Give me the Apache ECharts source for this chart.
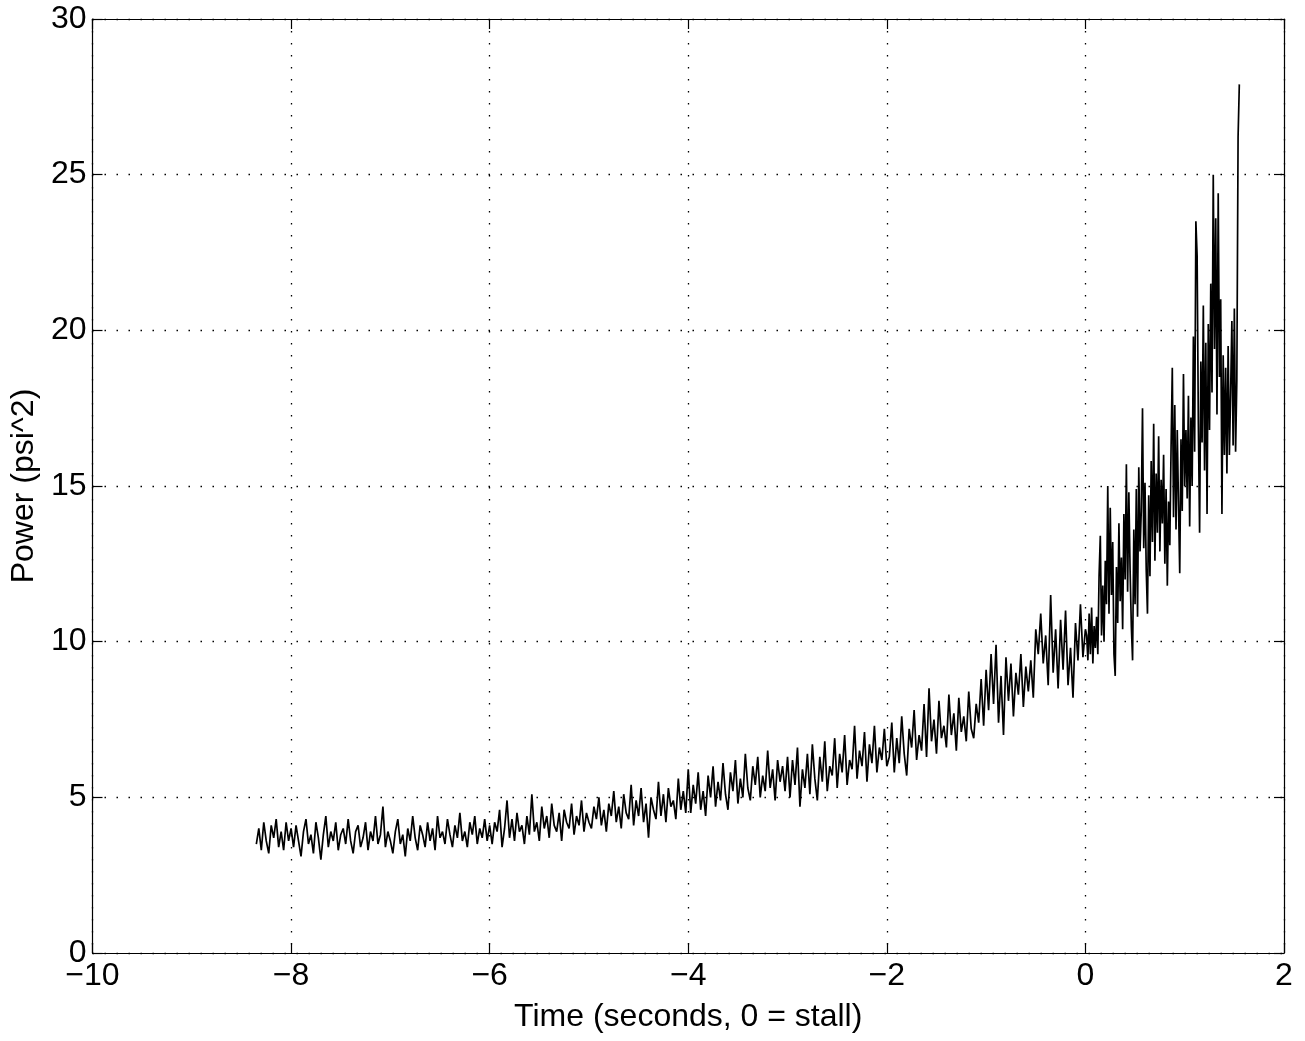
<!DOCTYPE html>
<html>
<head>
<meta charset="utf-8">
<script src="https://cdn.jsdelivr.net/npm/echarts@6/dist/echarts.min.js"></script>
<style>
  html, body { margin: 0; padding: 0; background: #fff; }
  #chart { width: 1305px; height: 1041px; }
</style>
</head>
<body>
<div id="chart"></div>
<script>
// Pressure-signal power before and after stall.
// Before stall: one sample every 25 ms; after stall: every 12.5 ms.
const preStart = -8.35;
const preStep = 0.025;
const postStart = 0.0125;
const postStep = 0.0125;

// -8.35 .. -8.00 s
const powerLead = [3.5, 4.0, 3.3, 4.2, 3.6, 3.2, 4.1, 3.7, 4.3, 3.4, 3.9, 3.3, 4.2, 3.6, 4.0];
// -7.975 .. -7.00 s
const powerSec7 = [3.4, 4.1, 3.6, 3.1, 3.9, 4.3, 3.5, 3.8, 3.2, 4.2,
                   3.7, 3.0, 3.8, 4.4, 3.4, 3.9, 3.6, 4.2, 3.3, 3.8,
                   4.0, 3.5, 4.3, 3.6, 3.2, 3.9, 4.1, 3.4, 3.7, 4.2,
                   3.3, 3.9, 3.6, 4.4, 3.5, 3.8, 4.7, 3.4, 3.9, 3.6];
// -6.975 .. -6.00 s
const powerSec6 = [3.2, 3.9, 4.3, 3.5, 3.8, 3.1, 4.0, 3.6, 4.4, 3.7,
                   3.3, 4.1, 3.8, 3.4, 4.2, 3.6, 4.0, 3.3, 4.4, 3.7,
                   3.9, 3.5, 4.3, 3.8, 3.4, 4.1, 3.7, 4.5, 3.6, 3.9,
                   3.4, 4.2, 3.8, 4.4, 3.5, 4.0, 3.7, 4.3, 3.6, 4.1];
// -5.975 .. -5.00 s
const powerSec5 = [3.5, 4.2, 3.9, 4.6, 3.4, 4.0, 4.9, 3.7, 4.3, 3.6,
                   4.5, 3.9, 4.1, 3.5, 4.4, 3.8, 5.1, 3.9, 4.2, 3.6,
                   4.7, 4.0, 4.4, 3.7, 4.8, 4.1, 3.9, 4.5, 3.6, 4.6,
                   4.2, 4.0, 4.8, 3.8, 4.4, 4.1, 4.9, 3.9, 4.5, 4.2];
// -4.975 .. -4.00 s
const powerSec4 = [4.0, 4.7, 4.3, 5.0, 4.1, 4.6, 3.9, 4.8, 4.4, 5.2,
                   4.2, 4.7, 4.0, 5.1, 4.5, 4.3, 5.4, 4.1, 4.9, 4.4,
                   5.3, 4.2, 4.8, 3.7, 5.0, 4.6, 4.3, 5.5, 4.4, 5.1,
                   4.2, 5.3, 4.7, 4.9, 4.3, 5.6, 4.6, 5.2, 4.5, 5.9];
// -3.975 .. -3.00 s
const powerSec3 = [4.5, 5.4, 4.8, 5.8, 4.6, 5.2, 4.4, 5.7, 5.0, 6.0,
                   4.7, 5.5, 4.9, 6.1, 5.1, 4.6, 5.8, 5.2, 6.2, 4.8,
                   5.6, 5.0, 6.4, 5.3, 4.9, 6.0, 5.4, 6.3, 5.0, 5.7,
                   5.2, 6.5, 5.3, 5.9, 4.9, 6.2, 5.5, 6.0, 5.2, 6.3];
// -2.975 .. -2.00 s
const powerSec2 = [5.0, 6.2, 5.4, 6.6, 4.7, 5.9, 5.3, 6.4, 5.1, 6.7,
                   5.6, 4.9, 6.3, 5.5, 6.8, 5.2, 6.0, 5.7, 6.9, 5.3,
                   6.4, 5.8, 7.0, 5.4, 6.2, 5.9, 7.3, 5.6, 6.5, 6.0,
                   7.1, 5.5, 6.7, 6.1, 7.3, 5.8, 6.6, 6.2, 7.2, 6.0];
// -1.975 .. -1.00 s
const powerSec1 = [6.3, 7.4, 5.8, 6.9, 6.1, 7.6, 6.4, 5.7, 7.2, 6.6,
                   7.8, 6.2, 7.0, 6.5, 8.0, 6.3, 8.5, 6.8, 7.5, 6.4,
                   8.1, 6.9, 7.3, 6.6, 8.3, 7.0, 7.7, 6.5, 8.2, 7.1,
                   7.6, 6.8, 8.4, 7.2, 6.9, 8.0, 7.4, 8.8, 7.3, 9.1];
// -0.975 .. 0.00 s
const powerSec0 = [7.8, 9.6, 8.0, 9.9, 7.4, 8.9, 7.0, 9.5, 8.1, 9.3,
                   7.6, 9.0, 8.3, 9.6, 7.9, 9.2, 8.4, 9.4, 8.2, 10.4,
                   9.6, 10.9, 9.3, 10.2, 8.6, 11.5, 9.0, 10.4, 8.5, 10.7,
                   9.1, 11.0, 8.6, 9.8, 8.2, 10.6, 9.4, 11.2, 9.5, 10.4];

// 0.0125 .. 0.50 s (after stall)
const powerPostA = [10.2, 9.4, 10.9, 9.6, 11.1, 9.3, 10.5, 9.8, 10.8, 9.6,
                    12.1, 13.4, 10.2, 11.8, 10.0, 12.6, 11.2, 15.0, 10.9, 14.3,
                    11.5, 13.2, 9.6, 8.9, 12.4, 10.6, 13.8, 11.3, 12.7, 10.4,
                    14.1, 12.0, 15.7, 11.6, 14.8, 12.3, 10.5, 9.4, 13.6, 11.2];
// 0.5125 .. 1.00 s
const powerPostB = [14.9, 10.8, 15.6, 12.9, 14.2, 17.5, 13.0, 15.1, 12.3, 10.9,
                    14.7, 12.1, 15.8, 13.2, 17.0, 12.6, 15.4, 13.5, 16.6, 12.9,
                    15.2, 13.8, 16.0, 12.5, 14.9, 11.8, 14.5, 13.1, 16.2, 18.8,
                    14.0, 17.6, 13.6, 16.8, 14.4, 12.2, 16.5, 14.2, 18.6, 15.0];
// 1.0125 .. 1.55 s
const powerPostC = [16.8, 14.6, 17.9, 13.7, 17.2, 15.0, 19.8, 16.1, 23.5, 22.4,
                    17.0, 13.5, 19.0, 16.4, 20.8, 15.5, 19.6, 14.1, 20.2, 16.8,
                    21.5, 18.0, 25.0, 19.4, 23.6, 17.3, 24.4, 18.5, 21.0, 14.1,
                    19.2, 16.0, 18.8, 15.4, 19.5, 16.0, 18.0, 20.3, 16.3, 20.7,
                    16.1, 18.4, 26.2, 27.9];

// Axis ticks
const xTicks = { min: -10, max: 2, step: 2 };
const yTicks = { min: 0, max: 30, step: 5 };

const prePower = [].concat(powerLead, powerSec7, powerSec6, powerSec5, powerSec4,
  powerSec3, powerSec2, powerSec1, powerSec0);
const postPower = [].concat(powerPostA, powerPostB, powerPostC);
const seriesData = prePower.map((v, i) => [+(preStart + i * preStep).toFixed(4), v])
  .concat(postPower.map((v, i) => [+(postStart + i * postStep).toFixed(4), v]));

const FONT = '"Liberation Sans", Arial, Helvetica, sans-serif';
const FS = 32;
const minus = v => String(v).replace('-', '\u2212');

const gridLine = { show: true, lineStyle: { color: '#000', width: 1.3, type: [1.5, 10.5] } };
const frame = { show: true, onZero: false, lineStyle: { color: '#000', width: 1.2 } };
const innerTick = { show: true, inside: true, length: 10, lineStyle: { color: '#000', width: 1.2 } };

const chart = echarts.init(document.getElementById('chart'), null, { renderer: 'canvas' });
chart.setOption({
  animation: false,
  backgroundColor: '#fff',
  textStyle: { fontFamily: FONT },
  grid: { left: 90, right: 21, top: 19, bottom: 88, containLabel: false },
  xAxis: [{
    type: 'value', position: 'bottom',
    min: xTicks.min, max: xTicks.max, interval: xTicks.step,
    name: 'Time (seconds, 0 = stall)', nameLocation: 'middle', nameGap: 48,
    nameTextStyle: { fontSize: FS, color: '#000', fontFamily: FONT },
    axisLine: frame, axisTick: innerTick, splitLine: gridLine,
    axisLabel: { fontSize: FS, color: '#000', margin: 7, fontFamily: FONT, formatter: minus }
  }, {
    type: 'value', position: 'top',
    min: xTicks.min, max: xTicks.max, interval: xTicks.step,
    axisLine: frame, axisTick: innerTick, splitLine: { show: false },
    axisLabel: { show: false }
  }],
  yAxis: [{
    type: 'value', position: 'left',
    min: yTicks.min, max: yTicks.max, interval: yTicks.step,
    name: 'Power (psi^2)', nameLocation: 'middle', nameGap: 46, nameRotate: 90,
    nameTextStyle: { fontSize: FS, color: '#000', fontFamily: FONT },
    axisLine: frame, axisTick: innerTick, splitLine: gridLine,
    axisLabel: { fontSize: FS, color: '#000', margin: 6, fontFamily: FONT }
  }, {
    type: 'value', position: 'right',
    min: yTicks.min, max: yTicks.max, interval: yTicks.step,
    axisLine: frame, axisTick: innerTick, splitLine: { show: false },
    axisLabel: { show: false }
  }],
  series: [{
    type: 'line',
    xAxisIndex: 0, yAxisIndex: 0,
    data: seriesData,
    showSymbol: false,
    sampling: null,
    lineStyle: { color: '#000', width: 1.7 },
    emphasis: { disabled: true }
  }]
});
</script>
</body>
</html>
